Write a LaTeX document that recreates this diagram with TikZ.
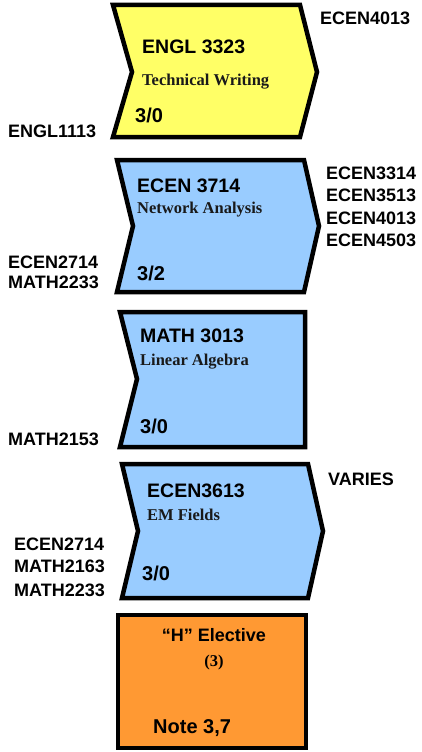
\documentclass[tikz,border=0pt]{standalone}
\usepackage{fontspec}
\setmainfont{Liberation Serif}
\setsansfont{Liberation Sans}
\definecolor{cyellow}{HTML}{FFFF66}
\definecolor{cblue}{HTML}{99CCFF}
\definecolor{corange}{HTML}{FF9933}
\tikzset{
  course/.style={draw=black, line width=4.5pt, line join=miter},
  code/.style={anchor=base west, inner sep=0pt, font=\fontsize{19.5}{20}\selectfont\sffamily\bfseries},
  title/.style={anchor=base west, inner sep=0pt, font=\fontsize{16.5}{18}\selectfont\rmfamily\bfseries, text=black!90},
  hours/.style={anchor=base west, inner sep=0pt, font=\fontsize{20}{22}\selectfont\sffamily\bfseries},
  req/.style={anchor=base west, inner sep=0pt, font=\fontsize{18}{20}\selectfont\sffamily\bfseries},
}
\begin{document}
\begin{tikzpicture}[x=1pt,y=-1pt]
\useasboundingbox (0,0) rectangle (421,752);
% Box 1
\draw[course, fill=cyellow] (113,5) -- (300,5) -- (317,72) -- (300,137) -- (113,137) -- (132,72) -- cycle;
\node[code] (c1) at (142,53) {ENGL 3323};
\node[title] (t1) at (142,85) {Technical Writing};
\node[hours] (h1) at (135,122) {3/0};
\node[req] (p1) at (8,137) {ENGL1113};
\node[req] (f1) at (320,25) {ECEN4013};
% Box 2
\draw[course, fill=cblue] (117,160) -- (304,160) -- (319,226) -- (304,292) -- (117,292) -- (133,226) -- cycle;
\node[code] (c2) at (137,192) {ECEN 3714};
\node[title] (t2) at (137,213) {Network Analysis};
\node[hours] (h2) at (137,280) {3/2};
\node[req] (p2a) at (8,268) {ECEN2714};
\node[req] (p2b) at (8,288) {MATH2233};
\node[req] (f2a) at (326,179) {ECEN3314};
\node[req] (f2b) at (326,201.5) {ECEN3513};
\node[req] (f2c) at (326,224) {ECEN4013};
\node[req] (f2d) at (326,246.5) {ECEN4503};
% Box 3
\draw[course, fill=cblue] (120,312) -- (305,312) -- (305,447) -- (120,447) -- (137,379) -- cycle;
\node[code] (c3) at (140,342) {MATH 3013};
\node[title] (t3) at (140,365) {Linear Algebra};
\node[hours] (h3) at (140,433) {3/0};
\node[req] (p3) at (8,445) {MATH2153};
% Box 4
\draw[course, fill=cblue] (122,464) -- (308,464) -- (323,531) -- (308,598) -- (122,598) -- (138,531) -- cycle;
\node[code] (c4) at (147,497) {ECEN3613};
\node[title] (t4) at (147,520) {EM Fields};
\node[hours] (h4) at (142,580) {3/0};
\node[req] (p4a) at (14,550) {ECEN2714};
\node[req] (p4b) at (14,572) {MATH2163};
\node[req] (p4c) at (14,596) {MATH2233};
\node[req] (f4) at (328,485) {VARIES};
% Box 5
\draw[course, fill=corange] (118,615) rectangle (306,748);
\node[anchor=base, inner sep=0pt, font=\fontsize{18}{20}\selectfont\sffamily\bfseries] (c5) at (214,641) {“H” Elective};
\node[anchor=base, inner sep=0pt, font=\fontsize{16.5}{18}\selectfont\rmfamily\bfseries] (t5) at (214,666) {(3)};
\node[hours] (h5) at (153,733) {Note 3,7};
\end{tikzpicture}
\end{document}
